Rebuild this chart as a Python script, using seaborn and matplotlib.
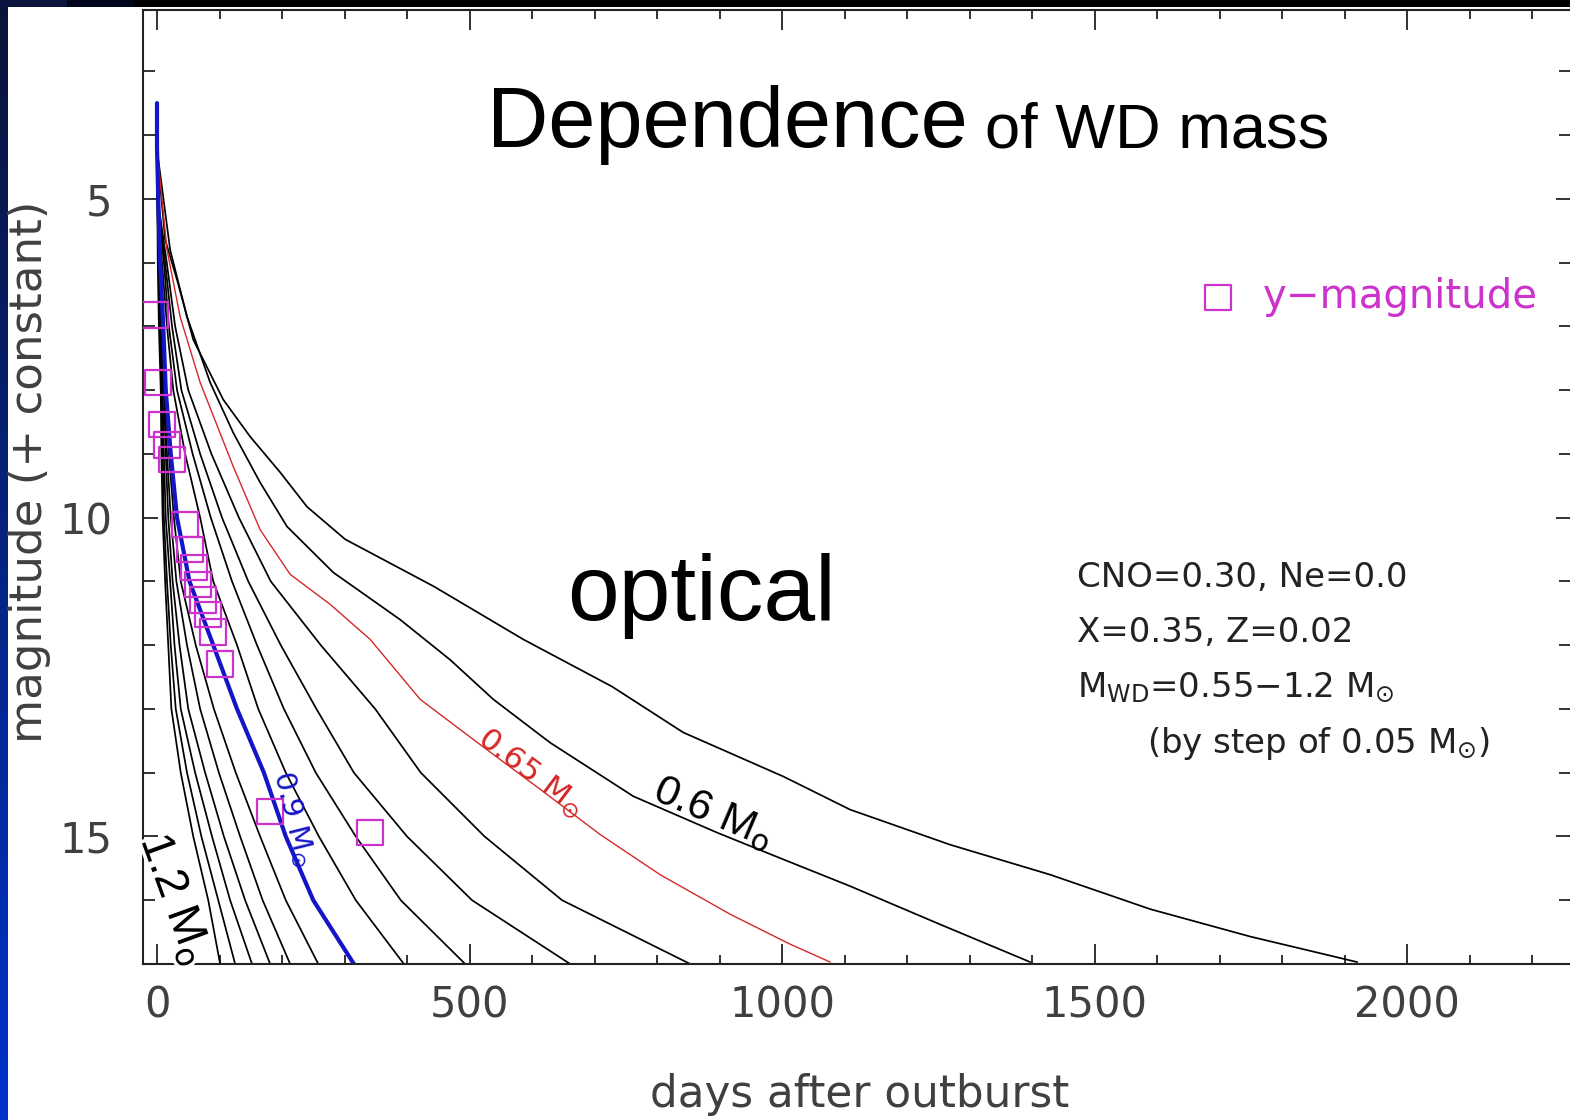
import numpy as np
import pandas as pd
import matplotlib
matplotlib.use("Agg")
import matplotlib.pyplot as plt
import matplotlib.patheffects as pe
from matplotlib.ticker import MultipleLocator, FixedLocator
import seaborn as sns

# ---------------- data ----------------
# inner model curves: days at which each curve reaches the magnitudes of MAG_GRID
MAG_GRID = [4.2, 5, 6, 7, 8, 9, 10, 11, 12, 13, 14, 15, 16, 17]
MASSES_INNER = [0.7, 0.75, 0.8, 0.85, 0.95, 1.0, 1.05, 1.1, 1.15, 1.2]
DAYS_070 = [0, 1, 15.6, 29, 50, 87, 131, 182, 262, 349, 422, 524, 648, 853]
DAYS_075 = [0, 1, 13, 24, 39, 69, 104, 146, 198, 255, 315, 400, 504, 661]
DAYS_080 = [0, 1, 11, 19, 32, 57, 86, 120, 160, 203, 254, 318, 390, 493]
DAYS_085 = [0, 1, 8, 16, 26, 45, 69, 90, 128, 162, 206, 259, 318, 395]
DAYS_095 = [0, 1, 5, 9, 14, 19, 27, 38, 62, 91, 126, 165, 206, 258]
DAYS_100 = [0, 1, 4, 7, 12, 16, 22, 31, 48, 69, 99, 133, 169, 213]
DAYS_105 = [0, 1, 4, 6, 11, 14, 18, 25, 36, 50, 77, 107, 141, 181]
DAYS_110 = [0, 1, 2.4, 5, 9, 11, 14, 21, 28, 38, 61, 88, 117, 152]
DAYS_115 = [0, 0.5, 2.4, 4.5, 7.5, 9, 11, 16, 22, 30, 48, 71, 98, 125]
DAYS_120 = [0, 0.5, 1.2, 3, 6, 7, 9, 13, 18, 23, 38, 58, 82, 101]

# 0.55 Msun curve
M055_DAYS = [0, 13, 32, 58, 106, 149, 197, 240, 301, 443, 586, 728, 842, 1002,
             1109, 1269, 1429, 1589, 1749, 1920]
M055_MAG = [4.23, 5.64, 6.27, 7.21, 8.15, 8.73, 9.29, 9.83, 10.34, 11.08, 11.91,
            12.65, 13.37, 14.06, 14.58, 15.13, 15.60, 16.14, 16.57, 16.97]
# 0.6 Msun curve
M060_DAYS = [0, 21, 48, 85, 122, 165, 208, 282, 389, 469, 538, 629, 762, 896,
             1002, 1109, 1253, 1397]
M060_MAG = [4.23, 5.80, 6.85, 7.88, 8.67, 9.45, 10.14, 10.86, 11.60, 12.23, 12.85,
            13.53, 14.37, 14.94, 15.36, 15.78, 16.38, 16.97]
# 0.65 Msun curve (red)
M065_DAYS = [0, 16, 37, 69, 122, 165, 213, 277, 341, 421, 517, 613, 709, 805,
             917, 1013, 1077]
M065_MAG = [4.23, 5.80, 6.85, 7.88, 9.20, 10.19, 10.89, 11.36, 11.91, 12.85,
            13.56, 14.26, 14.97, 15.60, 16.22, 16.69, 16.97]
# 0.9 Msun curve (blue)
M090_DAYS = [0, 0, 2, 5, 10, 14, 22, 32, 52, 90, 128, 171, 206, 250, 315]
M090_MAG = [3.5, 4.2, 5, 6, 7, 8, 9, 10, 11, 12, 13, 14, 15, 16, 17]

# observed y magnitudes
OBS_DAYS = [-3, 2, 8, 16, 24, 45, 53, 59, 66, 74, 82, 90, 101, 181, 341]
OBS_MAG = [6.82, 7.88, 8.54, 8.86, 9.09, 10.11, 10.50, 10.78, 11.05, 11.29,
           11.52, 11.79, 12.30, 14.61, 14.94]

X_TICKS = [0, 500, 1000, 1500, 2000]
Y_TICKS = [5, 10, 15]

# ---------------- build tables ----------------
inner_days = [DAYS_070, DAYS_075, DAYS_080, DAYS_085, DAYS_095,
              DAYS_100, DAYS_105, DAYS_110, DAYS_115, DAYS_120]
rows = []
for m, dl in zip(MASSES_INNER, inner_days):
    for d, g in zip(dl, MAG_GRID):
        rows.append((m, d, g))
for d, g in zip(M055_DAYS, M055_MAG):
    rows.append((0.55, d, g))
for d, g in zip(M060_DAYS, M060_MAG):
    rows.append((0.6, d, g))
df_black = pd.DataFrame(rows, columns=["mass", "day", "mag"])
df_red = pd.DataFrame({"day": M065_DAYS, "mag": M065_MAG})
df_blue = pd.DataFrame({"day": M090_DAYS, "mag": M090_MAG})
df_obs = pd.DataFrame({"day": OBS_DAYS, "mag": OBS_MAG})

# ---------------- style ----------------
sns.set_style("ticks")
plt.rcParams["font.family"] = ["DejaVu Sans"]
plt.rcParams["mathtext.fontset"] = "dejavusans"

W, H = 1570, 1120
fig = plt.figure(figsize=(W / 100, H / 100), dpi=100, facecolor="white")

# slide decoration: left blue gradient strip and top band
strip = fig.add_axes([0, 0, 8 / W, 1])
grad = np.linspace(0, 1, 256)[:, None]
top_c = np.array([0.04, 0.08, 0.22])
bot_c = np.array([0.0, 0.2, 0.8])
img = top_c[None, None, :] * (1 - grad[:, :, None]) + bot_c[None, None, :] * grad[:, :, None]
strip.imshow(img, aspect="auto", extent=[0, 1, 0, 1])
strip.axis("off")
band_l = fig.add_axes([0, 1 - 7 / H, 135 / W, 7 / H])
band_l.imshow(np.array([[[0.04, 0.08, 0.25], [0.0, 0.02, 0.1]]]), aspect="auto")
band_l.axis("off")
band_r = fig.add_axes([135 / W, 1 - 7 / H, 1 - 135 / W, 7 / H])
band_r.set_facecolor("black")
band_r.set_xticks([]); band_r.set_yticks([])
for s in band_r.spines.values():
    s.set_visible(False)

# main axes (right edge slightly beyond the image, as in the reference)
ax = fig.add_axes([143 / W, (H - 964) / H, 1428 / W, 954 / H])
ax.set_facecolor("white")

sns.lineplot(data=df_black, x="day", y="mag", units="mass", estimator=None,
             sort=False, color="black", lw=1.25, ax=ax, legend=False)
sns.lineplot(data=df_red, x="day", y="mag", estimator=None, sort=False,
             color="#d42828", lw=1.0, ax=ax, legend=False)
sns.lineplot(data=df_blue, x="day", y="mag", estimator=None, sort=False,
             color="#1515c8", lw=3.0, ax=ax, legend=False)
sns.scatterplot(data=df_obs, x="day", y="mag", marker="s", s=340,
                facecolors="none", edgecolor="#cc33cc", linewidth=1.6,
                ax=ax, zorder=5, label="y\u2212magnitude")

ax.set_xlim(-22.4, 2262)
ax.set_ylim(17.0, 2.04)

ax.xaxis.set_major_locator(FixedLocator(X_TICKS))
ax.xaxis.set_minor_locator(MultipleLocator(100))
ax.yaxis.set_major_locator(FixedLocator(Y_TICKS))
ax.yaxis.set_minor_locator(MultipleLocator(1))
ax.set_xticklabels([str(v) for v in X_TICKS])
ax.set_yticklabels([str(v) for v in Y_TICKS])

tick_col = "#222222"
lab_col = "#404040"
ax.tick_params(axis="x", which="major", direction="in", length=14.4, width=1.3,
               top=True, bottom=True, labelsize=30, pad=15, color=tick_col,
               labelcolor=lab_col)
ax.tick_params(axis="x", which="minor", direction="in", length=6.8, width=1.3,
               top=True, bottom=True, color=tick_col)
ax.tick_params(axis="y", which="major", direction="in", length=10.5, width=1.3,
               left=True, right=True, labelsize=30, pad=22, color=tick_col,
               labelcolor=lab_col)
ax.tick_params(axis="y", which="minor", direction="in", length=8.5, width=1.3,
               left=True, right=True, color=tick_col)
for s in ax.spines.values():
    s.set_linewidth(1.5)
    s.set_color(tick_col)

ax.set_xlabel("days after outburst", fontsize=31.5, color=lab_col)
ax.set_ylabel("magnitude (+ constant)", fontsize=32.5, color=lab_col)
ax.xaxis.set_label_coords((860 - 143) / 1428, (964 - 1095) / 954)
ax.xaxis.label.set_va("center")
ax.yaxis.set_label_coords((30 - 143) / 1428, (964 - 472) / 954)
ax.yaxis.label.set_va("center")

leg = ax.legend(loc="center left", bbox_to_anchor=((1202 - 143) / 1428, (964 - 297) / 954),
                frameon=False, fontsize=29, handlelength=0.8, handletextpad=0.7,
                borderpad=0, borderaxespad=0, labelcolor="#cc33cc")

# ---------------- texts ----------------
arial = ["Liberation Sans", "DejaVu Sans"]
fig.text(487 / W, (H - 147) / H, "Dependence", fontsize=61, family=arial,
         color="black", va="baseline", ha="left")
fig.text(985 / W, (H - 147) / H, "of WD mass", fontsize=45.5, family=arial,
         color="black", va="baseline", ha="left")
fig.text(567 / W, (H - 620) / H, "optical", fontsize=67, family=arial,
         color="black", va="baseline", ha="left")

ann = dict(fontsize=24.5, color="#222222", va="baseline", ha="left")
fig.text(1077 / W, (H - 587) / H, "CNO=0.30, Ne=0.0", **ann)
fig.text(1077 / W, (H - 642) / H, "X=0.35, Z=0.02", **ann)
fig.text(1077 / W, (H - 697) / H, r"M$_{\mathrm{WD}}$=0.55$-$1.2 M$_{\odot}$", **ann)
fig.text(1147 / W, (H - 753) / H, r"(by step of 0.05 M$_{\odot}$)", **ann)

# curve labels (data coordinates)
ax.text(890, 14.64, r"0.6 M$_{\mathrm{o}}$", fontsize=31, family=arial, color="black",
        rotation=-23, rotation_mode="anchor", ha="center", va="center", zorder=6)
ax.text(597, 14.01, r"0.65 M$_{\odot}$", fontsize=22.5, color="#d42828",
        rotation=-37, rotation_mode="anchor", ha="center", va="center", zorder=6)
ax.text(218, 14.73, r"0.9 M$_{\odot}$", fontsize=21, color="#1515c8",
        rotation=-76, rotation_mode="anchor", ha="center", va="center", zorder=6)
ax.text(29, 15.99, r"1.2 M$_{\mathrm{o}}$", fontsize=33, family=arial, color="black",
        rotation=-70, rotation_mode="anchor", ha="center", va="center", zorder=6,
        path_effects=[pe.withStroke(linewidth=5, foreground="white")])

fig.savefig("out.png", dpi=100, facecolor="white")
